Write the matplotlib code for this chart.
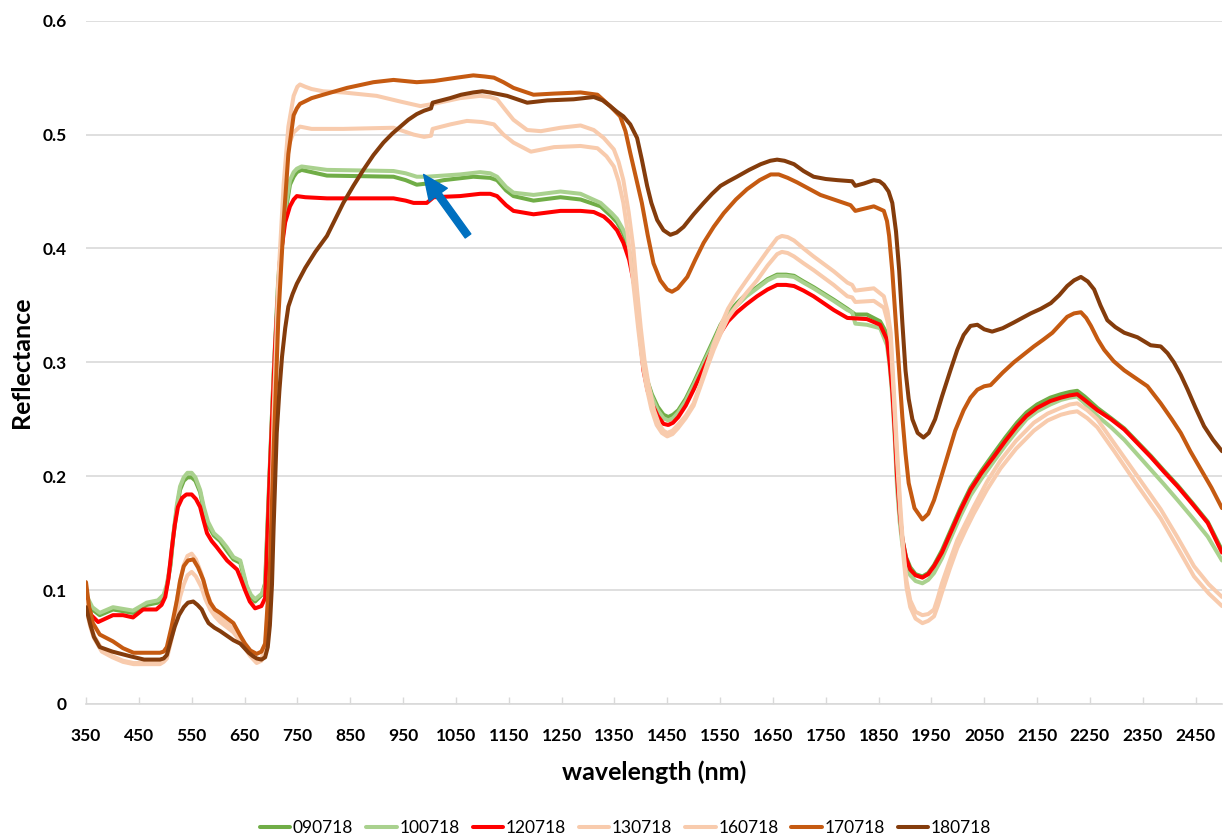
import matplotlib
matplotlib.use('Agg')
import matplotlib.pyplot as plt
from matplotlib import font_manager

names = {f.name for f in font_manager.fontManager.ttflist}
FONT = 'Lato' if 'Lato' in names else 'DejaVu Sans'
plt.rcParams['font.family'] = [FONT, 'DejaVu Sans']

# ---------------- data (wavelength nm, reflectance) ----------------
s_090718 = [(350,0.094),(362,0.083),(376,0.078),(401,0.083),(439,0.080),(465,0.087),(486,0.089),(497,0.094),(503,0.103),(510,0.122),(515,0.146),(522,0.172),(528,0.188),(535,0.196),(542,0.199),(550,0.199),(557,0.196),(566,0.186),(573,0.170),(581,0.157),(592,0.148),(604,0.143),(616,0.135),(629,0.127),(642,0.124),(648,0.113),(654,0.103),(662,0.094),(670,0.090),(683,0.096),(689,0.106),(696,0.187),(705,0.288),(714,0.372),(727,0.430),(736,0.456),(743,0.463),(749,0.467),(758,0.469),(806,0.464),(932,0.463),(955,0.460),(976,0.456),(995,0.457),(1027,0.460),(1083,0.463),(1115,0.462),(1128,0.460),(1145,0.451),(1159,0.446),(1197,0.442),(1248,0.445),(1286,0.443),(1324,0.437),(1345,0.428),(1355,0.423),(1366,0.414),(1374,0.405),(1383,0.385),(1393,0.355),(1400,0.322),(1405,0.300),(1413,0.283),(1421,0.272),(1432,0.261),(1443,0.254),(1452,0.252),(1461,0.254),(1471,0.258),(1485,0.268),(1500,0.282),(1526,0.308),(1551,0.333),(1565,0.343),(1582,0.352),(1600,0.360),(1620,0.366),(1640,0.373),(1658,0.377),(1675,0.377),(1690,0.376),(1708,0.371),(1727,0.366),(1765,0.355),(1791,0.347),(1806,0.342),(1828,0.342),(1853,0.336),(1866,0.325),(1871,0.305),(1876,0.280),(1881,0.240),(1885,0.200),(1890,0.168),(1895,0.145),(1902,0.129),(1910,0.120),(1920,0.114),(1933,0.112),(1944,0.115),(1955,0.122),(1970,0.135),(1986,0.152),(2005,0.172),(2024,0.190),(2045,0.205),(2068,0.220),(2090,0.234),(2112,0.247),(2130,0.256),(2150,0.263),(2175,0.269),(2195,0.272),(2212,0.274),(2226,0.275),(2240,0.270),(2264,0.260),(2290,0.251),(2315,0.242),(2340,0.230),(2365,0.218),(2390,0.205),(2416,0.192),(2445,0.176),(2473,0.160),(2500,0.135)]

s_100718 = [(350,0.096),(362,0.085),(376,0.080),(401,0.085),(439,0.082),(465,0.089),(486,0.091),(497,0.096),(503,0.105),(510,0.124),(515,0.148),(522,0.175),(528,0.191),(535,0.199),(542,0.203),(550,0.203),(557,0.199),(566,0.188),(573,0.173),(581,0.160),(592,0.150),(604,0.145),(616,0.138),(629,0.129),(642,0.126),(648,0.115),(654,0.104),(662,0.096),(670,0.092),(683,0.097),(689,0.104),(696,0.180),(705,0.290),(714,0.375),(727,0.435),(736,0.460),(743,0.467),(749,0.470),(758,0.472),(806,0.469),(932,0.468),(955,0.466),(976,0.463),(995,0.463),(1058,0.465),(1096,0.467),(1115,0.466),(1128,0.463),(1145,0.454),(1159,0.449),(1197,0.447),(1248,0.450),(1286,0.448),(1324,0.440),(1345,0.431),(1355,0.426),(1366,0.417),(1374,0.408),(1383,0.387),(1393,0.357),(1400,0.322),(1405,0.300),(1413,0.281),(1421,0.270),(1432,0.258),(1443,0.251),(1452,0.249),(1461,0.251),(1471,0.256),(1485,0.266),(1500,0.280),(1526,0.306),(1551,0.331),(1565,0.341),(1582,0.350),(1600,0.358),(1620,0.365),(1640,0.372),(1658,0.376),(1675,0.376),(1690,0.375),(1708,0.370),(1727,0.365),(1765,0.354),(1791,0.346),(1800,0.344),(1806,0.334),(1828,0.333),(1853,0.330),(1866,0.315),(1871,0.297),(1876,0.270),(1881,0.230),(1885,0.190),(1890,0.160),(1895,0.140),(1902,0.122),(1910,0.113),(1920,0.108),(1933,0.106),(1944,0.109),(1955,0.115),(1970,0.128),(1986,0.145),(2005,0.165),(2024,0.183),(2045,0.198),(2068,0.213),(2090,0.227),(2112,0.240),(2130,0.250),(2150,0.257),(2175,0.263),(2195,0.267),(2212,0.269),(2226,0.270),(2240,0.264),(2264,0.253),(2290,0.243),(2315,0.232),(2340,0.219),(2365,0.206),(2390,0.193),(2416,0.179),(2445,0.163),(2473,0.147),(2500,0.126)]

s_120718 = [(350,0.092),(360,0.078),(373,0.072),(401,0.078),(420,0.078),(439,0.076),(458,0.083),(483,0.083),(493,0.087),(500,0.094),(506,0.110),(512,0.135),(518,0.157),(524,0.173),(532,0.181),(540,0.184),(550,0.184),(558,0.180),(566,0.173),(572,0.162),(579,0.150),(588,0.143),(597,0.138),(617,0.126),(636,0.118),(643,0.110),(651,0.100),(660,0.090),(670,0.084),(682,0.086),(689,0.093),(698,0.205),(708,0.315),(717,0.389),(727,0.423),(736,0.437),(743,0.443),(749,0.446),(765,0.445),(806,0.444),(932,0.444),(955,0.442),(970,0.440),(995,0.440),(1008,0.445),(1058,0.446),(1096,0.448),(1115,0.448),(1128,0.446),(1145,0.438),(1159,0.433),(1197,0.430),(1248,0.433),(1286,0.433),(1311,0.432),(1330,0.428),(1342,0.423),(1355,0.416),(1367,0.405),(1378,0.390),(1386,0.372),(1393,0.352),(1399,0.320),(1405,0.293),(1413,0.275),(1421,0.264),(1432,0.253),(1443,0.246),(1452,0.245),(1461,0.247),(1471,0.252),(1485,0.262),(1500,0.276),(1526,0.302),(1551,0.326),(1565,0.336),(1582,0.344),(1600,0.351),(1620,0.358),(1640,0.364),(1658,0.368),(1675,0.368),(1690,0.367),(1708,0.363),(1727,0.358),(1765,0.346),(1791,0.339),(1828,0.338),(1853,0.333),(1866,0.320),(1871,0.300),(1876,0.275),(1881,0.237),(1885,0.200),(1890,0.168),(1895,0.145),(1902,0.128),(1910,0.118),(1920,0.113),(1933,0.111),(1944,0.114),(1955,0.121),(1970,0.133),(1986,0.150),(2005,0.170),(2024,0.188),(2045,0.203),(2068,0.217),(2090,0.231),(2112,0.244),(2130,0.253),(2150,0.260),(2175,0.266),(2195,0.269),(2212,0.271),(2226,0.272),(2240,0.267),(2264,0.258),(2290,0.250),(2315,0.241),(2340,0.229),(2365,0.217),(2390,0.204),(2416,0.191),(2445,0.175),(2473,0.159),(2500,0.133)]

s_130718 = [(350,0.090),(358,0.072),(365,0.060),(380,0.048),(400,0.042),(420,0.038),(440,0.036),(490,0.036),(497,0.038),(503,0.042),(511,0.060),(520,0.085),(528,0.108),(535,0.122),(542,0.130),(550,0.132),(558,0.127),(568,0.115),(576,0.101),(585,0.090),(594,0.082),(604,0.076),(629,0.066),(645,0.056),(661,0.044),(673,0.038),(682,0.040),(689,0.048),(698,0.113),(705,0.255),(714,0.372),(724,0.456),(733,0.507),(743,0.534),(750,0.542),(755,0.544),(765,0.542),(777,0.540),(799,0.538),(837,0.537),(900,0.534),(945,0.529),(983,0.525),(1008,0.527),(1058,0.532),(1096,0.534),(1115,0.533),(1128,0.531),(1145,0.521),(1159,0.513),(1185,0.504),(1211,0.503),(1248,0.506),(1286,0.508),(1311,0.504),(1330,0.497),(1349,0.487),(1358,0.476),(1367,0.460),(1377,0.432),(1386,0.400),(1393,0.363),(1400,0.330),(1407,0.302),(1415,0.280),(1425,0.258),(1435,0.245),(1443,0.240),(1450,0.238),(1460,0.240),(1470,0.245),(1485,0.253),(1500,0.264),(1513,0.281),(1526,0.299),(1538,0.316),(1551,0.332),(1565,0.347),(1582,0.360),(1600,0.372),(1620,0.385),(1640,0.398),(1658,0.409),(1667,0.411),(1678,0.410),(1690,0.407),(1708,0.400),(1727,0.393),(1765,0.380),(1791,0.370),(1800,0.368),(1806,0.363),(1841,0.365),(1860,0.358),(1867,0.345),(1873,0.326),(1879,0.275),(1885,0.223),(1891,0.175),(1897,0.135),(1903,0.108),(1910,0.091),(1920,0.081),(1933,0.078),(1944,0.079),(1955,0.083),(1962,0.093),(1970,0.106),(1985,0.126),(1999,0.144),(2015,0.159),(2030,0.173),(2055,0.195),(2081,0.214),(2110,0.231),(2144,0.247),(2170,0.255),(2195,0.260),(2212,0.263),(2226,0.264),(2245,0.258),(2264,0.250),(2296,0.229),(2340,0.200),(2384,0.171),(2415,0.147),(2447,0.121),(2475,0.105),(2500,0.094)]

s_160718 = [(350,0.085),(358,0.068),(365,0.058),(380,0.046),(400,0.041),(420,0.037),(440,0.035),(490,0.035),(497,0.037),(503,0.040),(511,0.055),(520,0.075),(528,0.094),(535,0.105),(542,0.113),(550,0.116),(558,0.112),(568,0.103),(576,0.092),(585,0.083),(594,0.077),(604,0.072),(629,0.063),(645,0.053),(661,0.042),(673,0.036),(682,0.038),(689,0.045),(698,0.100),(705,0.230),(714,0.360),(724,0.440),(733,0.490),(743,0.502),(755,0.507),(777,0.505),(837,0.505),(932,0.506),(970,0.500),(990,0.498),(1003,0.499),(1006,0.505),(1040,0.509),(1071,0.512),(1100,0.511),(1122,0.509),(1140,0.500),(1159,0.493),(1192,0.485),(1236,0.489),(1286,0.490),(1318,0.488),(1335,0.481),(1349,0.472),(1358,0.459),(1367,0.440),(1374,0.418),(1380,0.393),(1388,0.360),(1395,0.330),(1402,0.303),(1410,0.280),(1420,0.259),(1430,0.245),(1440,0.238),(1450,0.235),(1460,0.237),(1470,0.242),(1485,0.251),(1500,0.262),(1513,0.279),(1526,0.296),(1538,0.311),(1551,0.325),(1565,0.339),(1582,0.350),(1600,0.361),(1620,0.372),(1640,0.385),(1658,0.395),(1667,0.397),(1678,0.396),(1690,0.393),(1708,0.387),(1727,0.381),(1765,0.368),(1791,0.358),(1800,0.357),(1806,0.353),(1841,0.354),(1860,0.348),(1867,0.336),(1873,0.318),(1879,0.268),(1885,0.215),(1891,0.168),(1897,0.130),(1903,0.102),(1910,0.085),(1920,0.075),(1933,0.071),(1944,0.073),(1955,0.077),(1962,0.086),(1970,0.098),(1985,0.119),(1999,0.137),(2015,0.153),(2030,0.167),(2055,0.188),(2081,0.207),(2110,0.224),(2144,0.240),(2170,0.249),(2195,0.254),(2212,0.256),(2226,0.257),(2245,0.251),(2264,0.243),(2296,0.222),(2340,0.192),(2384,0.163),(2415,0.138),(2447,0.112),(2475,0.097),(2500,0.086)]

s_170718 = [(350,0.107),(356,0.085),(363,0.071),(376,0.061),(401,0.055),(420,0.049),(440,0.045),(490,0.045),(497,0.046),(503,0.050),(512,0.068),(522,0.091),(528,0.108),(535,0.121),(543,0.126),(553,0.127),(562,0.120),(572,0.109),(579,0.097),(585,0.089),(594,0.083),(604,0.080),(629,0.071),(642,0.060),(651,0.053),(661,0.047),(673,0.044),(682,0.046),(689,0.053),(698,0.120),(705,0.221),(714,0.339),(724,0.423),(733,0.483),(743,0.517),(749,0.523),(755,0.527),(777,0.532),(799,0.535),(844,0.541),(894,0.546),(932,0.548),(976,0.546),(1008,0.547),(1052,0.550),(1083,0.552),(1105,0.551),(1122,0.550),(1140,0.546),(1159,0.541),(1197,0.535),(1236,0.536),(1286,0.537),(1318,0.535),(1342,0.525),(1361,0.516),(1371,0.503),(1380,0.484),(1391,0.462),(1402,0.440),(1413,0.412),(1424,0.387),(1437,0.372),(1450,0.364),(1459,0.362),(1470,0.365),(1488,0.375),(1503,0.390),(1519,0.405),(1538,0.419),(1557,0.431),(1580,0.443),(1601,0.452),(1625,0.460),(1646,0.465),(1661,0.465),(1678,0.462),(1696,0.458),(1740,0.447),(1797,0.438),(1806,0.433),(1841,0.437),(1860,0.433),(1866,0.424),(1870,0.411),(1876,0.380),(1882,0.340),(1889,0.292),(1895,0.252),(1901,0.220),(1907,0.194),(1918,0.172),(1933,0.162),(1944,0.167),(1955,0.179),(1967,0.197),(1980,0.217),(1995,0.240),(2011,0.258),(2024,0.269),(2037,0.276),(2050,0.279),(2062,0.280),(2085,0.291),(2106,0.300),(2125,0.307),(2144,0.314),(2162,0.320),(2179,0.326),(2195,0.334),(2207,0.340),(2220,0.343),(2233,0.344),(2243,0.339),(2252,0.332),(2265,0.320),(2277,0.311),(2295,0.301),(2315,0.293),(2340,0.285),(2359,0.279),(2384,0.264),(2405,0.250),(2422,0.238),(2440,0.222),(2460,0.206),(2480,0.190),(2500,0.172)]

s_180718 = [(350,0.085),(358,0.070),(365,0.059),(376,0.050),(400,0.046),(433,0.042),(460,0.039),(490,0.039),(497,0.040),(503,0.043),(510,0.055),(518,0.068),(526,0.078),(535,0.085),(543,0.089),(553,0.090),(561,0.087),(569,0.083),(576,0.076),(582,0.071),(593,0.067),(604,0.064),(629,0.056),(642,0.053),(650,0.049),(658,0.045),(666,0.042),(673,0.040),(682,0.039),(689,0.041),(694,0.050),(698,0.069),(702,0.105),(705,0.154),(711,0.238),(716,0.275),(721,0.305),(727,0.330),(733,0.349),(741,0.360),(749,0.369),(765,0.383),(784,0.397),(806,0.411),(820,0.424),(837,0.440),(856,0.455),(875,0.469),(894,0.482),(913,0.493),(930,0.501),(945,0.507),(960,0.513),(976,0.518),(990,0.521),(1003,0.523),(1006,0.528),(1039,0.532),(1060,0.535),(1083,0.537),(1100,0.538),(1115,0.537),(1147,0.534),(1185,0.528),(1223,0.530),(1273,0.531),(1311,0.533),(1328,0.530),(1342,0.525),(1355,0.520),(1367,0.516),(1380,0.509),(1393,0.497),(1402,0.478),(1412,0.455),(1420,0.440),(1431,0.425),(1443,0.416),(1456,0.412),(1468,0.414),(1481,0.419),(1500,0.430),(1519,0.440),(1535,0.448),(1551,0.455),(1566,0.459),(1582,0.463),(1605,0.469),(1627,0.474),(1645,0.477),(1658,0.478),(1672,0.477),(1690,0.474),(1708,0.468),(1727,0.463),(1750,0.461),(1772,0.460),(1800,0.459),(1806,0.455),(1822,0.457),(1841,0.460),(1852,0.459),(1860,0.456),(1869,0.450),(1876,0.440),(1883,0.415),(1889,0.381),(1895,0.335),(1901,0.293),(1907,0.268),(1914,0.250),(1924,0.238),(1935,0.234),(1945,0.238),(1957,0.250),(1970,0.270),(1986,0.293),(1999,0.311),(2011,0.324),(2024,0.332),(2037,0.333),(2050,0.329),(2065,0.327),(2085,0.330),(2106,0.335),(2122,0.339),(2138,0.343),(2157,0.347),(2176,0.352),(2192,0.359),(2207,0.367),(2220,0.372),(2233,0.375),(2246,0.371),(2258,0.364),(2270,0.350),(2283,0.337),(2298,0.331),(2315,0.326),(2340,0.322),(2365,0.315),(2384,0.314),(2397,0.308),(2409,0.300),(2422,0.289),(2435,0.276),(2450,0.260),(2466,0.244),(2483,0.232),(2500,0.222)]

series_names = ['090718', '100718', '120718', '130718', '160718', '170718', '180718']
series_data = [s_090718, s_100718, s_120718, s_130718, s_160718, s_170718, s_180718]
series_colors = ['#70AD47', '#A9D18E', '#FF0000', '#F8CBAD', '#F8CBAD', '#C55A11', '#843C0C']

x_ticks = list(range(350, 2451, 100))
y_ticks = [0, 0.1, 0.2, 0.3, 0.4, 0.5, 0.6]
y_tick_labels = ['0', '0.1', '0.2', '0.3', '0.4', '0.5', '0.6']

arrow_tip = (989, 0.465)
arrow_tail = (1073, 0.411)

# ---------------- figure ----------------
W, H = 1225, 839
fig = plt.figure(figsize=(W / 100, H / 100), dpi=100)
ax = fig.add_axes([86 / W, 1 - 704 / H, (1222 - 86) / W, (704 - 20.7) / H])

grid_c = '#D9D9D9'
for name, data, col in zip(series_names, series_data, series_colors):
    xs = [p[0] for p in data]
    ys = [p[1] for p in data]
    ax.plot(xs, ys, color=col, lw=2.9, label=name, solid_joinstyle='round',
            solid_capstyle='round', zorder=3)

ax.set_xlim(350, 2500)
ax.set_ylim(0, 0.6)
ax.set_xticks(x_ticks)
ax.set_xticklabels([str(t) for t in x_ticks], fontsize=12.5, fontweight='bold')
ax.set_yticks(y_ticks)
ax.set_yticklabels(y_tick_labels, fontsize=12.5, fontweight='bold')
ax.tick_params(axis='x', direction='in', length=5, width=1, color=grid_c, pad=17)
ax.tick_params(axis='y', length=0, pad=14)
ax.yaxis.grid(True, color=grid_c, lw=1.2)
ax.set_axisbelow(True)
for sp in ['left', 'right', 'top']:
    ax.spines[sp].set_visible(False)
ax.spines['bottom'].set_color(grid_c)
ax.spines['bottom'].set_linewidth(1.2)

ax.annotate('', xy=arrow_tip, xytext=arrow_tail,
            arrowprops=dict(arrowstyle='simple,head_length=0.9,head_width=0.8,tail_width=0.25',
                            color='#0070C0', shrinkA=0, shrinkB=0, mutation_scale=20),
            zorder=5)

fig.text(654 / W, 1 - 772 / H, 'wavelength (nm)', ha='center', va='center',
         fontsize=18, fontweight='bold')
fig.text(22 / W, 1 - 362 / H, 'Reflectance', ha='center', va='center',
         rotation=90, fontsize=18, fontweight='bold')

fig.legend(loc='center', bbox_to_anchor=(625.6 / W, 1 - 828 / H), ncol=7,
           frameon=False, fontsize=12.5, handlelength=1.75, handletextpad=0.15,
           columnspacing=0.75, borderpad=0, borderaxespad=0)

fig.savefig('out.png', dpi=100)
